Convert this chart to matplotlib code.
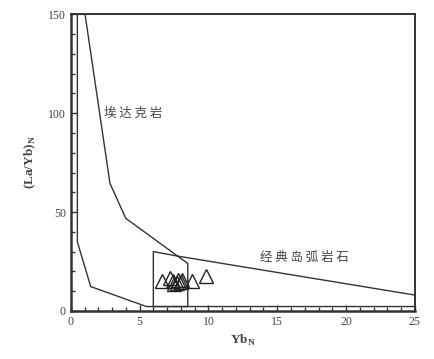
import numpy as np
import matplotlib.pyplot as plt
from matplotlib.ticker import MultipleLocator

# Field boundaries
adakite_x = [0.48, 0.48, 1.45, 5.5, 8.5, 8.5, 4.0, 2.85, 1.04, 0.48]
adakite_y = [150, 35, 12.3, 2.2, 2.2, 24.0, 46.8, 64.5, 150, 150]

arc_x = [6.0, 6.0, 7.7, 25.0, 25.0, 6.0]
arc_y = [2.2, 30.0, 27.8, 8.0, 2.2, 2.2]

# Samples
yb_n = [6.6, 7.2, 7.4, 7.5, 7.7, 7.8, 8.0, 8.1, 8.8, 9.8]
la_yb_n = [15.0, 16.5, 15.0, 13.5, 14.0, 15.5, 14.5, 15.5, 15.3, 17.5]

xticks = [0, 5, 10, 15, 20, 25]
yticks = [0, 50, 100, 150]

cjk = ['Noto Sans CJK SC', 'DejaVu Sans']
serif = 'Liberation Serif'

fig = plt.figure(figsize=(4.34, 3.59), dpi=100)
ax = fig.add_axes([0.163, 0.134, 0.793, 0.826])

ax.plot(adakite_x, adakite_y, color='#333333', lw=1.0)
ax.plot(arc_x, arc_y, color='#333333', lw=1.0)
ax.plot(yb_n, la_yb_n, linestyle='none', marker='^', ms=10,
        markerfacecolor='none', markeredgecolor='#222222', markeredgewidth=1.0)

ax.text(4.5, 100, ' '.join('埃达克岩'), family=cjk, fontsize=9, color='#444444',
        ha='center', va='center')
ax.text(17.0, 27, ' '.join('经典岛弧岩石'), family=cjk, fontsize=9, color='#444444',
        ha='center', va='center')

ax.set_xlim(0, 25)
ax.set_ylim(0, 150)
ax.set_xticks(xticks)
ax.set_yticks(yticks)
ax.xaxis.set_minor_locator(MultipleLocator(1))
ax.yaxis.set_minor_locator(MultipleLocator(10))
ax.tick_params(which='both', direction='in', top=False, right=False,
               colors='#333333', labelcolor='#444444', labelsize=8.5)
ax.tick_params(which='major', length=4, width=1)
ax.tick_params(which='minor', length=3, width=1)
for lab in ax.get_xticklabels() + ax.get_yticklabels():
    lab.set_family(serif)

for side in ['left', 'bottom']:
    ax.spines[side].set_linewidth(1.8)
for side in ['top', 'right']:
    ax.spines[side].set_linewidth(1.4)
for s in ax.spines.values():
    s.set_color('#333333')

ax.set_xlabel('Yb$_\\mathregular{N}$', family=serif, fontsize=9.5,
              fontweight='bold', color='#444444', labelpad=4)
ax.set_ylabel('(La/Yb)$_\\mathregular{N}$', family=serif, fontsize=9.5,
              fontweight='bold', color='#444444', labelpad=7)

fig.savefig('out.png', dpi=100)
